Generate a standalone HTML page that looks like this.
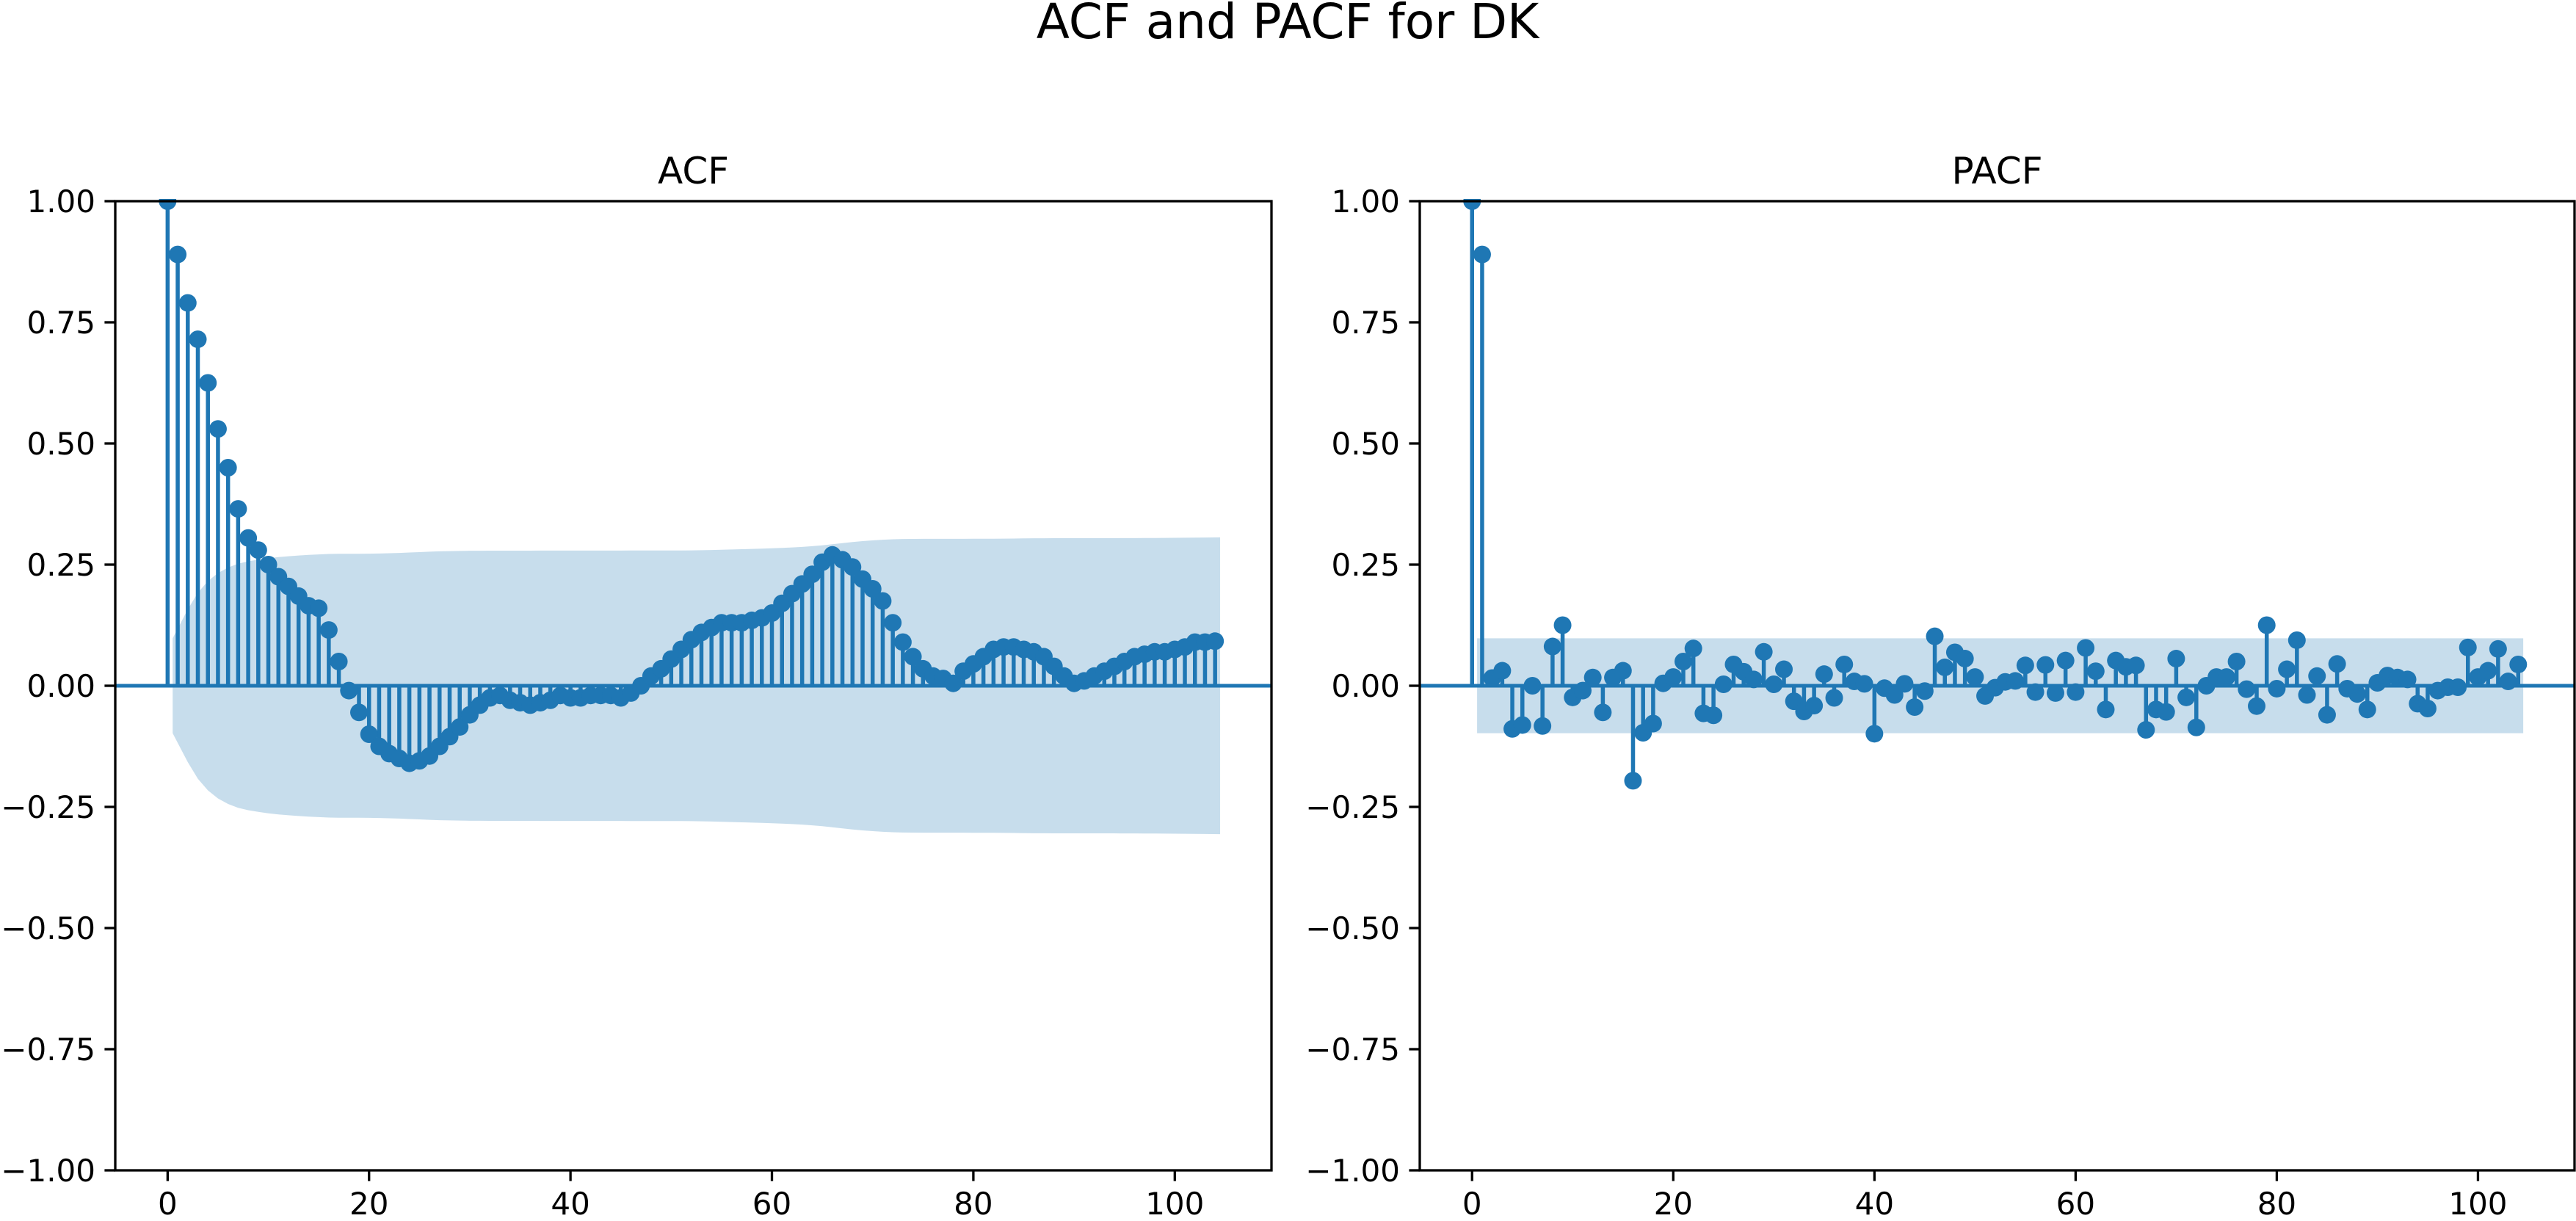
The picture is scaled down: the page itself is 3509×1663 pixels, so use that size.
<!DOCTYPE html>
<html><head><meta charset="utf-8"><title>ACF and PACF for DK</title>
<style>html,body{margin:0;padding:0;background:#fff}svg{display:block;font-family:"DejaVu Sans","Liberation Sans",sans-serif}</style>
</head><body>
<svg id="fig" width="3509" height="1663" viewBox="0 0 3509 1663" xmlns="http://www.w3.org/2000/svg">
<rect width="3509" height="1663" fill="#fff"/>
</svg>
<script>
const acfValues = [1.0,0.89,0.79,0.715,0.625,0.53,0.45,0.365,0.305,0.28,0.25,0.225,0.205,0.185,0.165,0.16,0.115,0.05,-0.01,-0.055,-0.1,-0.125,-0.14,-0.15,-0.16,-0.155,-0.145,-0.125,-0.105,-0.085,-0.06,-0.04,-0.025,-0.02,-0.03,-0.035,-0.04,-0.035,-0.03,-0.02,-0.025,-0.025,-0.02,-0.02,-0.02,-0.025,-0.015,0.0,0.02,0.035,0.055,0.075,0.095,0.11,0.12,0.13,0.13,0.13,0.135,0.14,0.15,0.17,0.19,0.21,0.23,0.255,0.27,0.26,0.245,0.22,0.2,0.175,0.13,0.09,0.06,0.035,0.02,0.015,0.005,0.03,0.045,0.06,0.075,0.08,0.08,0.075,0.07,0.06,0.04,0.02,0.005,0.01,0.02,0.03,0.04,0.05,0.06,0.065,0.07,0.07,0.075,0.08,0.09,0.09,0.092];
const pacfValues = [1.0,0.89,0.016,0.031,-0.089,-0.081,0.0,-0.083,0.081,0.125,-0.024,-0.01,0.017,-0.055,0.017,0.031,-0.196,-0.097,-0.078,0.005,0.018,0.05,0.077,-0.057,-0.061,0.003,0.044,0.029,0.013,0.07,0.003,0.034,-0.032,-0.053,-0.041,0.024,-0.025,0.044,0.009,0.004,-0.099,-0.005,-0.019,0.004,-0.044,-0.011,0.102,0.038,0.069,0.056,0.018,-0.021,-0.004,0.008,0.01,0.042,-0.013,0.043,-0.015,0.052,-0.013,0.078,0.03,-0.049,0.052,0.039,0.042,-0.091,-0.049,-0.054,0.056,-0.024,-0.086,0.0,0.018,0.018,0.05,-0.007,-0.042,0.125,-0.006,0.034,0.094,-0.019,0.02,-0.06,0.045,-0.006,-0.017,-0.049,0.006,0.021,0.017,0.013,-0.037,-0.047,-0.01,-0.003,-0.003,0.079,0.018,0.031,0.076,0.009,0.044];
const nObs = 400;
const yTickLabels = ["1.00","0.75","0.50","0.25","0.00","\u22120.25","\u22120.50","\u22120.75","\u22121.00"];
const yTickValues = [1,0.75,0.5,0.25,0,-0.25,-0.5,-0.75,-1];
const xTickValues = [0,20,40,60,80,100];

const NS='http://www.w3.org/2000/svg';
const svg=document.getElementById('fig');
const C='#1f77b4';
function mk(tag,attrs,parent){const e=document.createElementNS(NS,tag);for(const k in attrs)e.setAttribute(k,attrs[k]);(parent||svg).appendChild(e);return e;}

function bandACF(vals){const out=[];let s=0;for(let k=1;k<vals.length;k++){out.push(1.96*Math.sqrt((1+2*s)/nObs));s+=vals[k]*vals[k];}return out;}
function bandPACF(vals){const out=[];for(let k=1;k<vals.length;k++)out.push(1.96/Math.sqrt(nObs));return out;}

function panel(name,title,vals,bandFn,x0,x1){
  const y0=274,y1=1594,xmin=-5.2,xmax=109.6;
  const X=v=>x0+(v-xmin)/(xmax-xmin)*(x1-x0);
  const Y=v=>y1-(v+1)/2*(y1-y0);
  const g=mk('g',{});
  
  
  const b=bandFn(vals);const n=vals.length;
  let pts=[];
  for(let k=1;k<n;k++){const lx=k===1?k-0.5:(k===n-1?k+0.5:k);pts.push(X(lx)+','+Y(b[k-1]));}
  for(let k=n-1;k>=1;k--){const lx=k===1?k-0.5:(k===n-1?k+0.5:k);pts.push(X(lx)+','+Y(-b[k-1]));}
  const band=mk('polygon',{points:pts.join(' '),fill:C,'fill-opacity':0.25,stroke:'none'},g);
  
  
  const zl=mk('line',{x1:x0,x2:x1,y1:Y(0),y2:Y(0),stroke:C,'stroke-width':5},g);
  
  
  for(let k=0;k<n;k++){
    const s=mk('line',{x1:X(k),x2:X(k),y1:Y(0),y2:Y(vals[k]),stroke:C,'stroke-width':5.5},g);
    
    
  }
  for(let k=0;k<n;k++){
    const c=mk('circle',{cx:X(k),cy:Y(vals[k]),r:12,fill:C},g);
    
    
  }
  const cover=mk('rect',{x:x0-20,y:256,width:x1-x0+40,height:y0-259,fill:'#fff'},g);
  
  
  const fr=mk('rect',{x:x0,y:y0,width:x1-x0,height:y1-y0,fill:'none',stroke:'#000','stroke-width':3.3},g);
  
  
  const t=mk('text',{x:(x0+x1)/2,y:250,'font-size':50,'text-anchor':'middle',fill:'#000'},g);
  t.textContent=title;
  
  
  yTickValues.forEach((v,i)=>{
    const tk=mk('line',{x1:x0-14.6,x2:x0,y1:Y(v),y2:Y(v),stroke:'#000','stroke-width':3.3},g);
    
    
    const tl=mk('text',{x:x0-27,y:Y(v)+15,'font-size':42,'text-anchor':'end',fill:'#000'},g);
    tl.textContent=yTickLabels[i];
    
    
  });
  xTickValues.forEach(v=>{
    const tk=mk('line',{x1:X(v),x2:X(v),y1:y1,y2:y1+14.6,stroke:'#000','stroke-width':3.3},g);
    
    
    const tl=mk('text',{x:X(v),y:y1+60,'font-size':42,'text-anchor':'middle',fill:'#000'},g);
    tl.textContent=String(v);
    
    
  });
}
panel('acf','ACF',acfValues,bandACF,157,1732);
panel('pacf','PACF',pacfValues,bandPACF,1934,3507);
const ft=mk('text',{x:1754,y:52,'font-size':66,'text-anchor':'middle',fill:'#000'});
ft.textContent='ACF and PACF for DK';


</script>
</body></html>
